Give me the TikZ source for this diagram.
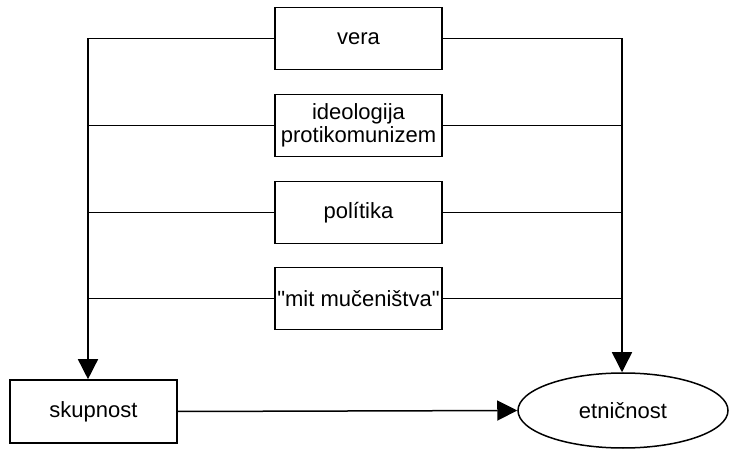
\documentclass[tikz,border=0pt]{standalone}
\usepackage{fontspec}
\setmainfont{Liberation Sans}
\usetikzlibrary{arrows.meta,shapes.geometric}
\begin{document}
\begin{tikzpicture}[x=1pt,y=-1pt,
  every node/.style={font=\fontsize{22}{23.5}\selectfont},
  factor/.style={draw,line width=1.6pt,minimum width=167pt,minimum height=62pt,inner sep=0pt,align=center},
  conn/.style={line width=1.5pt},
  arr/.style={line width=1.5pt,-{Triangle[length=20pt,width=20pt]}}]
\useasboundingbox (0,0) rectangle (729,449);
\node[factor] (vera) at (358.5,38.5) {vera};
\node[factor] (ideo) at (358.5,125.5) {ideologija\\protikomunizem};
\node[factor] (pol) at (358.5,212.5) {polítika};
\node[factor] (mit) at (358.5,298.5) {\addfontfeature{Ligatures=TeXOff}"mit mučeništva"};
\node[draw,line width=1.6pt,minimum width=167pt,minimum height=63pt,inner sep=0pt] (skup) at (93.5,411.5) {skupnost};
\node[draw,ellipse,line width=1.5pt,minimum width=210pt,minimum height=75pt,inner sep=0pt] (etn) at (623,410.5) {etničnost};
\coordinate (L) at (88,38.5);
\coordinate (R) at (622,38.5);
\draw[conn] (vera.west) -- (L);
\draw[arr] (L) -- (L |- skup.north);
\draw[conn] (vera.east) -- (R);
\draw[arr] (R) -- (R |- etn.north);
\foreach \n in {ideo,pol,mit}{
  \draw[conn] (\n.west) -- (\n.west -| L);
  \draw[conn] (\n.east) -- (\n.east -| R);
}
\draw[arr] (skup.east) -- (etn.west);
\end{tikzpicture}
\end{document}
